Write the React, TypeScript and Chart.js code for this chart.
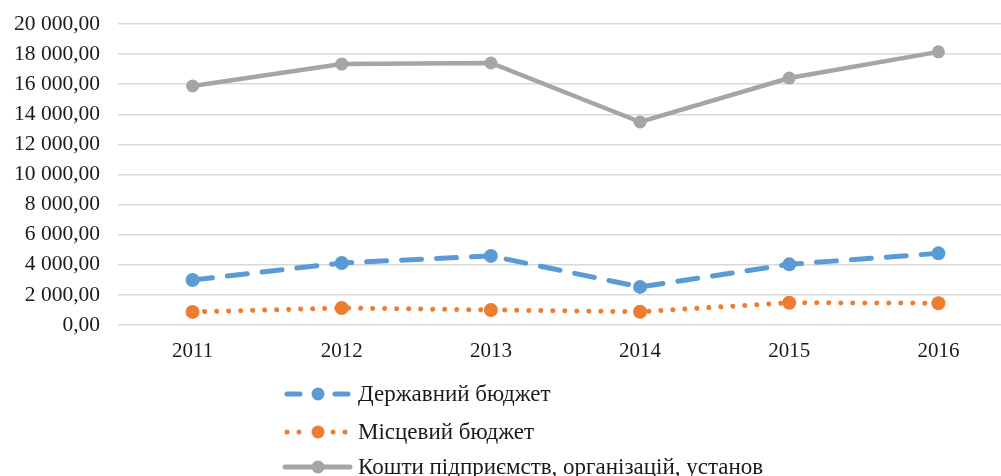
import React, { useEffect, useRef } from "react";
import { Chart, registerables } from "chart.js";

Chart.register(...registerables);

const years = ["2011", "2012", "2013", "2014", "2015", "2016"];
const stateBudget = [2990, 4120, 4590, 2530, 4030, 4760];
const localBudget = [870, 1130, 1000, 880, 1480, 1450];
const enterpriseFunds = [15880, 17340, 17410, 13490, 16410, 18150];
const seriesNames = [
  "Державний бюджет",
  "Місцевий бюджет",
  "Кошти підприємств, організацій, установ",
];
const yTicks = [0, 2000, 4000, 6000, 8000, 10000, 12000, 14000, 16000, 18000, 20000];

const BLUE = "#5b9bd5";
const ORANGE = "#ed7d31";
const GRAY = "#a5a5a5";
const FONT = "'Liberation Serif', 'Times New Roman', serif";

function fmt(v: number): string {
  const [i, d] = Math.abs(v).toFixed(2).split(".");
  const grouped = i.replace(/\B(?=(\d{3})+(?!\d))/g, " ");
  return grouped + "," + d;
}

const legendPlugin = {
  id: "customLegend",
  afterDraw(chart: any) {
    const ctx = chart.ctx;
    const items = [
      { name: seriesNames[0], color: BLUE, y: 394, kind: "dash" },
      { name: seriesNames[1], color: ORANGE, y: 432, kind: "dot" },
      { name: seriesNames[2], color: GRAY, y: 467, kind: "solid" },
    ];
    const x0 = 285;
    const x1 = 350;
    const cx = 318;
    items.forEach((it) => {
      ctx.save();
      ctx.strokeStyle = it.color;
      ctx.fillStyle = it.color;
      ctx.lineCap = "round";
      if (it.kind === "dash") {
        ctx.lineWidth = 5;
        ctx.beginPath();
        ctx.moveTo(x0 + 2, it.y);
        ctx.lineTo(x0 + 15, it.y);
        ctx.moveTo(x1 - 15, it.y);
        ctx.lineTo(x1 - 2, it.y);
        ctx.stroke();
      } else if (it.kind === "dot") {
        [x0 + 2, x0 + 14, cx + 15, cx + 27].forEach((dx) => {
          ctx.beginPath();
          ctx.arc(dx, it.y, 2.5, 0, Math.PI * 2);
          ctx.fill();
        });
      } else {
        ctx.lineWidth = 5;
        ctx.beginPath();
        ctx.moveTo(x0, it.y);
        ctx.lineTo(x1, it.y);
        ctx.stroke();
      }
      ctx.beginPath();
      ctx.arc(cx, it.y, 6.5, 0, Math.PI * 2);
      ctx.fill();
      ctx.fillStyle = "#1a1a1a";
      ctx.font = "23px " + FONT;
      ctx.textBaseline = "middle";
      ctx.textAlign = "left";
      ctx.fillText(it.name, 358, it.y + 1);
      ctx.restore();
    });
  },
};

export default function App() {
  const ref = useRef<HTMLCanvasElement | null>(null);
  useEffect(() => {
    if (!ref.current) return;
    const chart = new Chart(ref.current, {
      type: "line",
      data: {
        labels: years,
        datasets: [
          {
            label: seriesNames[0],
            data: stateBudget,
            borderColor: BLUE,
            backgroundColor: BLUE,
            borderWidth: 5,
            borderDash: [20, 15],
            borderCapStyle: "round",
            pointRadius: 7,
            pointBackgroundColor: BLUE,
            pointBorderWidth: 0,
            tension: 0,
          },
          {
            label: seriesNames[1],
            data: localBudget,
            borderColor: ORANGE,
            backgroundColor: ORANGE,
            borderWidth: 5,
            borderDash: [0.01, 12],
            borderCapStyle: "round",
            pointRadius: 7,
            pointBackgroundColor: ORANGE,
            pointBorderWidth: 0,
            tension: 0,
          },
          {
            label: seriesNames[2],
            data: enterpriseFunds,
            borderColor: GRAY,
            backgroundColor: GRAY,
            borderWidth: 4.5,
            pointRadius: 6.5,
            pointBackgroundColor: GRAY,
            pointBorderWidth: 0,
            tension: 0,
          },
        ] as any,
      },
      options: {
        animation: false,
        responsive: false,
        maintainAspectRatio: false,
        layout: { padding: { top: 24, right: 5, left: 0, bottom: 0 } },
        plugins: {
          legend: { display: false },
          tooltip: { enabled: false },
        },
        scales: {
          x: {
            offset: true,
            grid: { display: false, drawTicks: false },
            border: { display: false },
            ticks: {
              color: "#1a1a1a",
              font: { family: FONT, size: 21 },
              padding: 14,
            },
            afterFit(s: any) {
              s.height = 151;
            },
          },
          y: {
            min: 0,
            max: 20000,
            afterBuildTicks(s: any) {
              s.ticks = yTicks.map((v) => ({ value: v }));
            },
            grid: { color: "#d9d9d9", lineWidth: 1.5, drawTicks: false },
            border: { display: false },
            ticks: {
              color: "#1a1a1a",
              font: { family: FONT, size: 21.5 },
              padding: 18,
              callback: (v: any) => fmt(Number(v)),
            },
            afterFit(s: any) {
              s.width = 118;
              s.paddingTop = 10;
              s.paddingBottom = 10;
            },
          },
        },
      } as any,
      plugins: [legendPlugin],
    });
    return () => chart.destroy();
  }, []);
  return (
    <div style={{ position: "absolute", left: 0, top: 0, width: 1020, height: 476 }}>
      <canvas ref={ref} width={1020} height={476} style={{ display: "block" }} />
    </div>
  );
}
